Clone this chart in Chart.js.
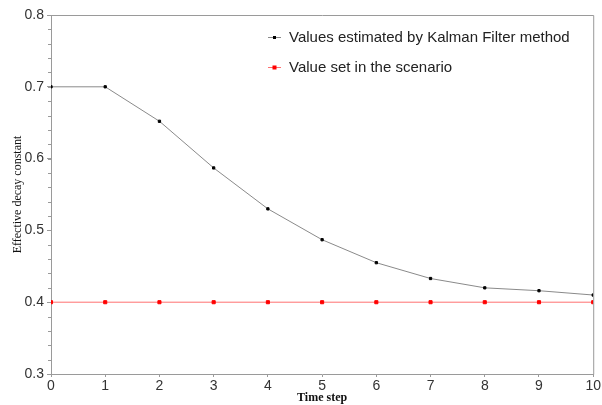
<!DOCTYPE html>
<html>
<head>
<meta charset="utf-8">
<script src="https://cdn.jsdelivr.net/npm/chart.js@4"></script>
<style>
  body { margin: 0; background: #fff; }
  #wrap { width: 602px; height: 405px; }
</style>
</head>
<body>
<div id="wrap"><canvas id="myChart"></canvas></div>
<script>
// values
const steps = [0, 1, 2, 3, 4, 5, 6, 7, 8, 9, 10];
const kalman = [0.700, 0.700, 0.652, 0.587, 0.530, 0.487, 0.455, 0.433, 0.420, 0.416, 0.410];
const scenario = [0.4, 0.4, 0.4, 0.4, 0.4, 0.4, 0.4, 0.4, 0.4, 0.4, 0.4];
const yTicks = [0.3, 0.4, 0.5, 0.6, 0.7, 0.8];
const legendLabels = ["Values estimated by Kalman Filter method", "Value set in the scenario"];

const axisColor = "#9a9a9a";

// box round the plot, minor ticks and the legend in the top right
const extras = {
  id: "extras",
  afterDraw(chart) {
    const ctx = chart.ctx;
    const a = chart.chartArea;
    const y = chart.scales.y;
    ctx.save();
    ctx.strokeStyle = axisColor;
    ctx.lineWidth = 1;
    ctx.beginPath();
    ctx.moveTo(a.left + 0.5, a.top + 0.5);
    ctx.lineTo(a.right + 0.5, a.top + 0.5);
    ctx.lineTo(a.right + 0.5, a.bottom + 0.5);
    ctx.stroke();
    // minor ticks every 0.02
    for (let v = 0.3; v <= 0.8001; v += 0.02) {
      const py = Math.round(y.getPixelForValue(v)) + 0.5;
      ctx.beginPath();
      ctx.moveTo(a.left - 3, py);
      ctx.lineTo(a.left, py);
      ctx.stroke();
    }
    // legend
    ctx.font = "15px 'Liberation Sans', Arial, sans-serif";
    ctx.textBaseline = "middle";
    chart.data.datasets.forEach((ds, i) => {
      const ly = 37 + i * 30;
      ctx.strokeStyle = ds.borderColor;
      ctx.beginPath();
      ctx.moveTo(268, ly + 0.5);
      ctx.lineTo(281, ly + 0.5);
      ctx.stroke();
      ctx.fillStyle = ds.pointBackgroundColor;
      const s = i === 0 ? 3 : 4;
      ctx.fillRect(274.5 - s / 2, ly + 0.5 - s / 2, s, s);
      ctx.fillStyle = "#222";
      ctx.fillText(legendLabels[i], 289, ly + 1);
    });
    ctx.restore();
  }
};

const ctx = document.getElementById("myChart").getContext("2d");
const myChart = new Chart(ctx, {
  type: "line",
  data: {
    labels: steps,
    datasets: [
      {
        label: legendLabels[0],
        data: kalman,
        borderColor: "#8a8a8a",
        borderWidth: 1,
        pointBackgroundColor: "#000",
        pointBorderColor: "#000",
        pointStyle: "rect",
        pointRadius: 1.6,
        tension: 0
      },
      {
        label: legendLabels[1],
        data: scenario,
        borderColor: "#ff7070",
        borderWidth: 1,
        pointBackgroundColor: "#ff0000",
        pointBorderColor: "#ff0000",
        pointStyle: "rect",
        pointRadius: 2.2,
        tension: 0
      }
    ]
  },
  options: {
    responsive: true,
    maintainAspectRatio: false,
    animation: false,
    layout: { padding: { top: 15, right: 7, left: 0, bottom: 0 } },
    plugins: { legend: { display: false }, tooltip: { enabled: false } },
    scales: {
      x: {
        type: "linear",
        min: 0,
        max: 10,
        afterBuildTicks: (scale) => { scale.ticks = steps.map(v => ({ value: v })); },
        afterFit: (scale) => { scale.height = 31; },
        grid: { drawOnChartArea: false, color: axisColor, tickLength: 3 },
        border: { color: axisColor },
        ticks: { color: "#333", font: { size: 14, family: "'Liberation Sans', Arial, sans-serif" }, padding: 1, maxRotation: 0 },
        title: {
          display: true,
          text: "Time step",
          color: "#111",
          font: { size: 12, weight: "bold", family: "'Liberation Serif', 'Times New Roman', serif" },
          padding: { top: -1, bottom: 0 }
        }
      },
      y: {
        min: 0.3,
        max: 0.8,
        afterBuildTicks: (scale) => { scale.ticks = yTicks.map(v => ({ value: v })); },
        afterFit: (scale) => { scale.width = 51; },
        grid: { drawOnChartArea: false, color: axisColor, tickLength: 4 },
        border: { color: axisColor },
        ticks: {
          color: "#333",
          font: { size: 14, family: "'Liberation Sans', Arial, sans-serif" },
          padding: 3,
          callback: (v) => v.toFixed(1)
        },
        title: {
          display: true,
          text: "Effective decay constant",
          color: "#111",
          font: { size: 12, family: "'Liberation Serif', 'Times New Roman', serif" },
          padding: { top: 11, bottom: 2 }
        }
      }
    }
  },
  plugins: [extras]
});
</script>
</body>
</html>
